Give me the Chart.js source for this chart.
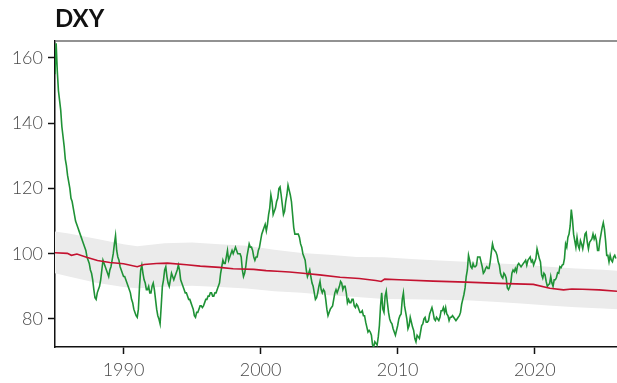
<!DOCTYPE html>
<html>
<head>
<meta charset="utf-8">
<script src="https://cdn.jsdelivr.net/npm/chart.js@4"></script>
<style>
  html, body { margin: 0; padding: 0; background: #ffffff; }
  #wrap { width: 617px; height: 383px; }
</style>
</head>
<body>
<div id="wrap"><canvas id="c" width="617" height="383"></canvas></div>
<script>
// ---- DATA ----
const chartTitle = 'DXY';
const startYear = 1985;
// Monthly DXY values, Jan 1985 onward (one row per year)
const dxyMonthly = [
  155, 164.5, 156, 150, 147, 144, 139, 136, 133, 129, 127, 124,          // 1985
  122, 120, 117, 116, 114, 112, 110, 109, 108, 107, 106, 105,            // 1986
  104, 103, 102, 101, 99, 98, 97, 95, 94, 92, 89, 86.5,                  // 1987
  86, 88, 89, 90, 92, 95, 98, 97, 96, 95, 94, 93,                        // 1988
  95, 96, 98, 100, 103, 105.5, 101, 99, 98, 96, 95, 94,                  // 1989
  93, 93, 92, 91, 90, 89, 88, 86, 85, 83, 82, 81,                        // 1990
  80.5, 83, 90, 95, 96.5, 94, 92, 91, 89, 89, 90, 88,                    // 1991
  88, 90, 91, 89, 86, 83, 81, 80, 78.5, 84, 90, 92,                      // 1992
  95, 96, 93, 91, 90, 92, 94, 93, 92, 93, 94, 95,                        // 1993
  96.5, 95, 92, 91, 90, 89, 88, 88, 87, 86, 86, 85,                      // 1994
  84, 83, 81, 80.5, 82, 82, 83, 84, 84, 83.5, 84, 85,                    // 1995
  86, 86, 87, 87, 88, 88, 87, 87, 88, 88, 89, 90,                        // 1996
  91, 94, 96, 98, 97, 97, 99, 101, 98, 99, 100, 101,                     // 1997
  100, 101, 102, 101, 100, 100, 100, 99, 95, 93, 94, 96,                 // 1998
  99, 101, 103, 102, 102, 101, 99, 98, 99, 99, 101, 102,                 // 1999
  104, 106, 107, 108, 109, 107, 109, 112, 114, 118, 116, 112,            // 2000
  113, 114, 116, 117, 120, 120.5, 118, 115, 112, 113, 116, 118,          // 2001
  121, 119.5, 118, 116, 112, 108, 106, 106, 106, 106, 105, 103,          // 2002
  102, 100, 99, 98, 95, 93, 94, 95, 93, 91, 90, 88,                      // 2003
  86, 86.5, 88, 90, 91.5, 89, 88, 89, 88.5, 86, 83, 81,                  // 2004
  82, 83, 83.5, 84, 86, 88, 89, 88, 89, 90, 91.5, 91,                    // 2005
  89, 90, 90, 88, 85, 86, 85, 85, 86, 86, 84, 83.5,                      // 2006
  84.5, 84, 83, 82, 82, 82.5, 81, 81, 79, 77.5, 76, 76.5,                // 2007
  76, 75, 72, 71.5, 73, 72.5, 72, 74.5, 78, 84, 88, 83,                  // 2008
  82, 87, 88.5, 85, 82, 80, 79, 78.5, 77, 76, 75, 76.5,                  // 2009
  78, 80, 81, 81.5, 86, 88, 84, 82, 80, 77, 78, 80.5,                    // 2010
  79, 77.5, 76.5, 74, 73, 75, 74.5, 74, 76, 78, 78.5, 80,                // 2011
  80.5, 79, 79, 79.5, 81.5, 82.5, 83.5, 82, 80, 79.5, 80.5, 80,          // 2012
  79.5, 80.5, 82.5, 82.5, 83.5, 82, 83.5, 81.5, 81, 79.5, 80.5, 80.5,    // 2013
  81, 80.5, 80, 79.5, 80, 80.5, 81, 82, 84.5, 86, 87.5, 89.5,            // 2014
  93, 95, 99.5, 98, 96, 95.5, 97, 96, 96, 96.5, 99, 99,                  // 2015
  99, 97.5, 96, 94, 94.5, 95.5, 96, 95.5, 95.5, 97.5, 100.5, 103,        // 2016
  101.5, 101, 100.5, 99.5, 97.5, 96.5, 94, 93, 92.5, 94, 93.5, 92.5,     // 2017
  89.5, 89, 89.8, 91, 94, 95, 94.5, 95.5, 94.5, 96.5, 97, 96.5,          // 2018
  96, 96.5, 97, 97.5, 98, 96.5, 98, 98.5, 99, 97.5, 98, 96.5,            // 2019
  97.5, 98.5, 101.5, 100, 98.5, 97.5, 93.5, 92.5, 94, 93.5, 91.5, 90,    // 2020
  90.5, 90.8, 93, 91, 90, 92, 92, 92.7, 94.2, 94, 96, 95.7,              // 2021
  96.5, 96.7, 98.5, 103, 102, 105, 106, 108.5, 113.5, 110.5, 106, 104,   // 2022
  102, 105, 102.5, 101.5, 104, 103, 101.5, 103.5, 106, 106.5, 103.5, 101.5, // 2023
  103.5, 104, 104.5, 106, 104.5, 105.5, 104, 101, 101, 104, 106, 108,    // 2024
  109.5, 107.5, 104, 99.5, 99.5, 97.5, 99.5, 98, 97.5, 99, 99.5, 98.5    // 2025
];

// Long-run trend (red line)
const trendYears  = [1985, 1985.9, 1986.2, 1986.6, 1987.3, 1988.1, 1989, 1990, 1991, 1991.5, 1992.4, 1993.2, 1994.6, 1995.6, 1997, 1998, 1999.5, 2000.4, 2001.2, 2002.1, 2003.1, 2004.3, 2005.8, 2007.2, 2008.4, 2008.8, 2009.05, 2010.1, 2012.6, 2015, 2017.4, 2019.9, 2021.1, 2022.1, 2022.7, 2023.5, 2024.7, 2026];
const trendValues = [100.3, 100.1, 99.5, 99.9, 98.9, 97.9, 97.3, 96.9, 96.0, 96.7, 97.0, 97.1, 96.6, 96.2, 95.8, 95.4, 95.2, 94.8, 94.6, 94.4, 94.0, 93.5, 92.8, 92.4, 91.8, 91.5, 92.2, 92.0, 91.6, 91.3, 90.9, 90.6, 89.4, 88.9, 89.2, 89.1, 88.9, 88.5];

// Grey band around the trend
const bandYears = [1985, 1986, 1988, 1990, 1991, 1993, 1995, 1997, 1999, 2001, 2003, 2005, 2007, 2009, 2011, 2013, 2015, 2017, 2019, 2021, 2023, 2025, 2026];
const bandUpper = [106.8, 106.2, 104.6, 102.9, 102.3, 103.2, 103.4, 102.9, 102.4, 101.2, 100.2, 99.7, 99.0, 98.9, 98.4, 97.9, 97.5, 97.1, 96.7, 96.0, 95.5, 95.1, 94.8];
const bandLower = [94.0, 93.0, 91.1, 89.8, 89.4, 89.9, 90.2, 89.8, 89.3, 88.5, 88.0, 87.3, 86.7, 86.1, 86.0, 85.9, 85.7, 85.3, 84.7, 84.1, 83.6, 83.2, 83.0];

const xTicks = [1990, 2000, 2010, 2020];
const yTicks = [80, 100, 120, 140, 160];
const xRange = [1985, 2026];
const yRange = [71.4, 165.2];

// ---- BUILD ----
const pts = (xs, ys) => xs.map((x, i) => ({ x: x, y: ys[i] }));
const dxyPoints = dxyMonthly.map((v, i) => ({ x: startYear + i / 12, y: v }));

Chart.defaults.font.family = 'Lato, "Open Sans", sans-serif';

const topFrame = {
  id: 'topFrame',
  afterDraw(chart) {
    const { ctx, chartArea } = chart;
    ctx.save();
    ctx.strokeStyle = '#6e6e6e';
    ctx.lineWidth = 1.5;
    ctx.beginPath();
    ctx.moveTo(chartArea.left, chartArea.top);
    ctx.lineTo(chartArea.right, chartArea.top);
    ctx.stroke();
    ctx.restore();
  }
};

new Chart(document.getElementById('c'), {
  type: 'line',
  data: {
    datasets: [
      { label: 'upper', data: pts(bandYears, bandUpper), borderWidth: 0, borderColor: 'rgba(0,0,0,0)', pointRadius: 0, fill: false, order: 5 },
      { label: 'lower', data: pts(bandYears, bandLower), borderWidth: 0, borderColor: 'rgba(0,0,0,0)', backgroundColor: '#ebebeb', pointRadius: 0, fill: '-1', order: 4 },
      { label: 'DXY', data: dxyPoints, borderColor: '#1f9236', borderWidth: 1.6, pointRadius: 0, fill: false, tension: 0, order: 2 },
      { label: 'trend', data: pts(trendYears, trendValues), borderColor: '#c41230', borderWidth: 1.6, pointRadius: 0, fill: false, tension: 0, order: 1 }
    ]
  },
  options: {
    responsive: false,
    animation: false,
    layout: { padding: { left: 0, right: 0, top: 0, bottom: 0 } },
    plugins: {
      legend: { display: false },
      tooltip: { enabled: false },
      title: {
        display: true, text: chartTitle, align: 'start', fullSize: false,
        color: '#111111',
        font: { family: 'Lato', size: 24, weight: 'bold' },
        padding: { top: 5, bottom: 7.2 }
      }
    },
    scales: {
      x: {
        type: 'linear', min: xRange[0], max: xRange[1],
        afterBuildTicks: (s) => { s.ticks = xTicks.map(v => ({ value: v })); },
        afterFit: (s) => { s.height = 36; },
        grid: { drawOnChartArea: false, drawTicks: true, tickLength: 7, tickColor: '#111', tickWidth: 1.5 },
        border: { display: true, color: '#111', width: 1.5 },
        ticks: { color: '#4a4a4a', padding: 5, maxRotation: 0, font: { size: 18, weight: 300 }, callback: (v) => String(v) }
      },
      y: {
        type: 'linear', min: yRange[0], max: yRange[1],
        afterBuildTicks: (s) => { s.ticks = yTicks.map(v => ({ value: v })); },
        afterFit: (s) => { s.width = 55; },
        grid: { drawOnChartArea: false, drawTicks: true, tickLength: 7, tickColor: '#111', tickWidth: 1.5 },
        border: { display: true, color: '#111', width: 1.5 },
        ticks: { color: '#4a4a4a', padding: 5, font: { size: 18, weight: 300 }, callback: (v) => String(v) }
      }
    }
  },
  plugins: [topFrame]
});
</script>
</body>
</html>
